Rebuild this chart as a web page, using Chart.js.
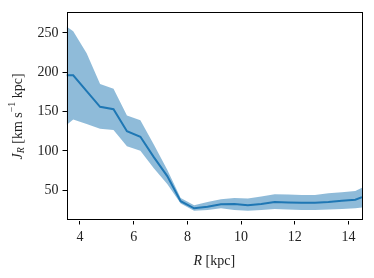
<!DOCTYPE html>
<html>
<head>
<meta charset="utf-8">
<script src="https://cdn.jsdelivr.net/npm/chart.js@4.4.0/dist/chart.umd.min.js"></script>
<style>
  body { margin: 0; background: #fff; }
</style>
</head>
<body>
<canvas id="chart" width="374" height="278"></canvas>
<script>
// radius bins [kpc]
const radius = [3.5, 3.75, 4.25, 4.75, 5.25, 5.75, 6.25, 6.75, 7.25, 7.75, 8.25, 8.75,
    9.25, 9.75, 10.25, 10.75, 11.25, 11.75, 12.25, 12.75, 13.25, 13.75, 14.25, 14.5];
// J_R median and spread
const jrMean = [196, 196, 176, 156, 153, 125, 118, 92, 68, 36, 27, 29,
    32, 32.5, 31, 32.5, 35, 34.5, 34, 34, 35, 36.5, 38, 41];
const jrUpper = [258, 252, 224, 185, 179, 145, 139, 108, 76, 40, 31, 35,
    38.5, 40, 39.5, 42, 45, 44.5, 44, 44, 46, 47.5, 49, 53];
const jrLower = [133, 140, 134, 128, 126.5, 106, 100, 78, 58, 33, 24, 25,
    27, 25, 24, 25, 26, 25.5, 25, 25, 25.5, 26, 27, 28];
const xTicks = [4, 6, 8, 10, 12, 14];
const yTicks = [50, 100, 150, 200, 250];

const FONT = 'Liberation Serif';
const toPts = (ys) => ys.map((y, i) => ({ x: radius[i], y: y }));

// draws a string made of pieces (italic / sub / sup) centered at 0,0
function drawRich(ctx, pieces, size) {
    const parts = pieces.map(p => {
        const s = p.sub || p.sup ? size * 0.7 : size;
        const font = (p.italic ? 'italic ' : '') + s + 'px "' + FONT + '"';
        ctx.font = font;
        return { t: p.t, font: font, w: ctx.measureText(p.t).width, dy: p.sub ? size * 0.22 : (p.sup ? -size * 0.38 : 0) };
    });
    const total = parts.reduce((a, p) => a + p.w, 0);
    let x = -total / 2;
    ctx.textBaseline = 'middle';
    ctx.textAlign = 'left';
    parts.forEach(p => {
        ctx.font = p.font;
        ctx.fillText(p.t, x, p.dy);
        x += p.w;
    });
}

const framePlugin = {
    id: 'frame',
    afterDraw(chart) {
        const { ctx, chartArea: a } = chart;
        ctx.save();
        ctx.strokeStyle = '#000';
        ctx.lineWidth = 1;
        ctx.strokeRect(Math.round(a.left) + 0.5, Math.round(a.top) + 0.5,
            Math.round(a.right - a.left) - 1, Math.round(a.bottom - a.top) - 1);
        ctx.fillStyle = '#222';
        // x title
        ctx.save();
        ctx.translate((a.left + a.right) / 2, 261);
        drawRich(ctx, [{ t: 'R', italic: true }, { t: ' [kpc]' }], 14);
        ctx.restore();
        // y title
        ctx.save();
        ctx.translate(18, (a.top + a.bottom) / 2);
        ctx.rotate(-Math.PI / 2);
        drawRich(ctx, [{ t: 'J', italic: true }, { t: 'R', italic: true, sub: true },
            { t: ' [km s' }, { t: '\u22121', sup: true }, { t: ' kpc]' }], 14);
        ctx.restore();
        ctx.restore();
    }
};

new Chart(document.getElementById('chart'), {
    type: 'line',
    data: {
        datasets: [{
            data: toPts(jrUpper),
            borderWidth: 0,
            pointRadius: 0,
            backgroundColor: 'rgba(31, 119, 180, 0.5)',
            fill: '+1',
        }, {
            data: toPts(jrLower),
            borderWidth: 0,
            pointRadius: 0,
            fill: false,
        }, {
            data: toPts(jrMean),
            borderColor: '#1f77b4',
            borderWidth: 2,
            pointRadius: 0,
            fill: false,
        }],
    },
    options: {
        responsive: false,
        animation: false,
        layout: { padding: { top: 11, right: 12, left: 0, bottom: 0 } },
        plugins: { legend: { display: false }, tooltip: { enabled: false } },
        elements: { line: { tension: 0 } },
        scales: {
            x: {
                type: 'linear',
                min: 3.5,
                max: 14.5,
                afterBuildTicks: (axis) => { axis.ticks = xTicks.map(v => ({ value: v })); },
                afterFit: (axis) => { axis.height = 57.5; },
                grid: { drawOnChartArea: false, tickLength: 4, color: '#000' },
                border: { display: false },
                ticks: { color: '#222', padding: 4, maxRotation: 0, font: { family: FONT, size: 14 } },
            },
            y: {
                min: 11.5,
                max: 276,
                afterBuildTicks: (axis) => { axis.ticks = yTicks.map(v => ({ value: v })); },
                afterFit: (axis) => { axis.width = 66.5; },
                grid: { drawOnChartArea: false, tickLength: 4, color: '#000' },
                border: { display: false },
                ticks: { color: '#222', padding: 4, font: { family: FONT, size: 14 } },
            },
        },
    },
    plugins: [framePlugin],
});
</script>
</body>
</html>
